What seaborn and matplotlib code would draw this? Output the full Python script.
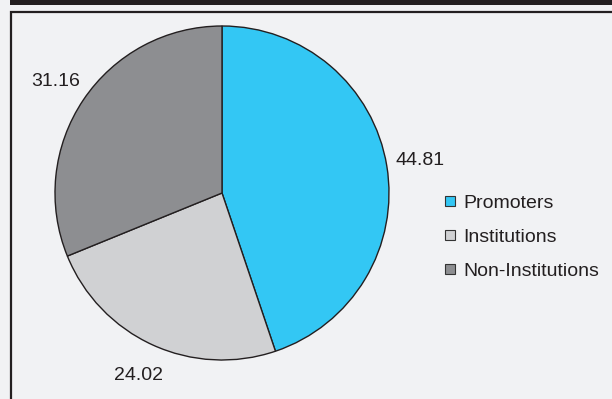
import matplotlib
matplotlib.use("Agg")
import matplotlib.pyplot as plt
from matplotlib.patches import Rectangle
from matplotlib.lines import Line2D
import seaborn as sns

categories = ["Promoters", "Institutions", "Non-Institutions"]
values = [44.81, 24.02, 31.16]
colors = ["#33C7F4", "#D0D1D3", "#8D8E91"]

sns.set_theme(style="white")
plt.rcParams['font.family'] = ['Liberation Sans', 'DejaVu Sans']

bg = "#F1F2F4"
dark = "#231F20"
W, H = 612, 399
fig = plt.figure(figsize=(W / 100, H / 100), dpi=100, facecolor=bg)

# top black bar and frame
fig.patches.append(Rectangle((10 / W, 1 - 5 / H), 1, 5 / H, transform=fig.transFigure,
                             facecolor=dark, edgecolor="none", zorder=0))
fig.patches.append(Rectangle((11 / W, -0.2), 1.2, 1.2 - 12 / H, transform=fig.transFigure,
                             facecolor="none", edgecolor=dark, linewidth=1.6, zorder=0))

cx, cy, r = 222, 193, 167
ax = fig.add_axes([(cx - r) / W, 1 - (cy + r) / H, 2 * r / W, 2 * r / H])
ax.set_facecolor(bg)
wedges, texts = ax.pie(values, colors=colors, labels=[f"{v:.2f}" for v in values],
                       startangle=90, counterclock=False, labeldistance=1.2,
                       wedgeprops=dict(edgecolor=dark, linewidth=1.0),
                       textprops=dict(fontsize=14, color=dark))
for t in texts:
    t.set_ha("center")
    t.set_va("center")
ax.set_xlim(-1, 1)
ax.set_ylim(-1, 1)
ax.set_aspect("equal")
ax.axis("off")

handles = [Line2D([0], [0], marker="s", linestyle="none", markersize=7,
                  markerfacecolor=c, markeredgecolor="#333333", markeredgewidth=0.8)
           for c in colors]
fig.legend(handles, categories, loc="center left", bbox_to_anchor=(444 / W, 1 - 237 / H),
           frameon=False, fontsize=14, handlelength=0.6, handletextpad=0.4,
           labelspacing=0.85, borderpad=0, borderaxespad=0, labelcolor=dark)

fig.savefig("out.png", dpi=100, facecolor=bg)
